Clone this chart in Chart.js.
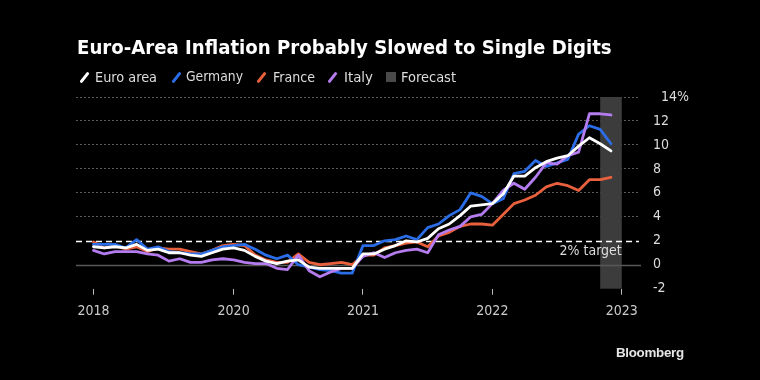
<!DOCTYPE html>
<html>
<head>
<meta charset="utf-8">
<script src="https://cdn.jsdelivr.net/npm/chart.js@4"></script>
<style>
  html,body{margin:0;padding:0;background:#000;}
  #wrap{position:relative;width:760px;height:380px;overflow:hidden;background:#000;font-family:"DejaVu Sans Condensed","DejaVu Sans",sans-serif;}
  canvas{position:absolute;left:0;top:0;}
  .fit{position:absolute;white-space:nowrap;line-height:1;display:inline-block;}
  #title{left:77px;top:37px;color:#fff;font-weight:700;font-size:19px;}
  .lg{top:70px;color:#ddd;font-size:15px;}
  .ico{position:absolute;top:71px;width:3px;height:13px;border-radius:2px;transform:rotate(38deg);}
  .sq{position:absolute;top:72px;width:10px;height:10px;background:#4a4a4a;}
  #bb{left:616px;top:346px;color:#e6e6e6;font-weight:700;font-size:14px;font-family:"Liberation Sans",Arial,sans-serif;letter-spacing:-0.3px;}
</style>
</head>
<body>
<div id="wrap">
  <canvas id="c" width="760" height="380"></canvas>
  <div id="title" class="fit" data-w="535">Euro-Area Inflation Probably Slowed to Single Digits</div>
  <span class="ico" style="left:83px;background:#ffffff"></span>
  <div class="fit lg" style="left:95px" data-w="62">Euro area</div>
  <span class="ico" style="left:175px;background:#2a6de6"></span>
  <div class="fit lg" style="left:186px" data-w="57">Germany</div>
  <span class="ico" style="left:260px;background:#e8603c"></span>
  <div class="fit lg" style="left:273px" data-w="42">France</div>
  <span class="ico" style="left:331px;background:#b57cf0"></span>
  <div class="fit lg" style="left:344px" data-w="29">Italy</div>
  <span class="sq" style="left:386px"></span>
  <div class="fit lg" style="left:401px" data-w="55">Forecast</div>
  <div id="bb" class="fit" data-w="68">Bloomberg</div>
</div>
<script>
// Monthly data, Dec 2018 .. Dec 2022 (last point = forecast)
const euroArea = [1.5, 1.4,1.5,1.4,1.7,1.2,1.3,1.0,1.0,0.8,0.7,1.0,1.3, 1.4,1.2,0.7,0.3,0.1,0.3,0.4,-0.2,-0.3,-0.3,-0.3,-0.3, 0.9,0.9,1.3,1.6,2.0,1.9,2.2,3.0,3.4,4.1,4.9,5.0, 5.1,5.9,7.4,7.4,8.1,8.6,8.9,9.1,9.9,10.6,10.1,9.5];
const germany  = [1.7, 1.7,1.7,1.4,2.1,1.3,1.5,1.1,1.0,0.9,0.9,1.2,1.5, 1.6,1.7,1.3,0.8,0.5,0.8,0.0,-0.2,-0.4,-0.5,-0.7,-0.7, 1.6,1.6,2.0,2.1,2.4,2.1,3.1,3.4,4.1,4.6,6.0,5.7, 5.1,5.5,7.6,7.8,8.7,8.2,8.5,8.8,10.9,11.6,11.3,10.1];
const france   = [1.9, 1.4,1.6,1.3,1.5,1.1,1.4,1.3,1.3,1.1,0.9,1.2,1.6, 1.7,1.6,0.8,0.4,0.2,0.2,0.9,0.2,0.0,0.1,0.2,0.0, 0.8,0.8,1.4,1.6,1.8,1.9,1.5,2.4,2.7,3.2,3.4,3.4, 3.3,4.2,5.1,5.4,5.8,6.5,6.8,6.6,6.2,7.1,7.1,7.3];
const italy    = [1.2, 0.9,1.1,1.1,1.1,0.9,0.8,0.3,0.5,0.2,0.2,0.4,0.5, 0.4,0.2,0.1,0.1,-0.3,-0.4,0.8,-0.5,-1.0,-0.6,-0.3,-0.3, 0.7,1.0,0.6,1.0,1.2,1.3,1.0,2.5,2.9,3.2,4.0,4.2, 5.1,6.2,6.8,6.3,7.3,8.5,8.4,9.1,9.4,12.6,12.6,12.5];
// x tick positions (month index, 0 = Dec 2018) and labels
const xTickPos    = [0, 13, 25, 37, 49];
const xTickLabels = ['2018', '2020', '2021', '2022', '2023'];
const yTicks      = [-2, 0, 2, 4, 6, 8, 10, 12, 14];
const targetValue = 2;
const forecastSpan = [47, 49];

// fit HTML text widths
document.querySelectorAll('.fit').forEach(el => {
  const w = parseFloat(el.dataset.w);
  const fs = parseFloat(getComputedStyle(el).fontSize);
  const cur = el.getBoundingClientRect().width;
  if (cur > 0) el.style.fontSize = (fs * w / cur).toFixed(2) + 'px';
});

const toXY = arr => arr.map((v, i) => ({x: i, y: v}));
const FONT = "'DejaVu Sans Condensed','DejaVu Sans',sans-serif";

const decor = {
  id: 'decor',
  beforeDatasetsDraw(chart) {
    const {ctx, chartArea: a, scales: {x, y}} = chart;
    ctx.save();
    // forecast band
    const x0 = x.getPixelForValue(forecastSpan[0]);
    const x1 = x.getPixelForValue(forecastSpan[1]);
    ctx.fillStyle = '#3c3c3c';
    ctx.fillRect(x0, a.top, x1 - x0, a.bottom - a.top);
    // zero line
    const y0 = Math.round(y.getPixelForValue(0)) + 0.5;
    ctx.strokeStyle = '#585858';
    ctx.lineWidth = 1.5;
    ctx.beginPath(); ctx.moveTo(a.left, y0); ctx.lineTo(a.right + 2, y0); ctx.stroke();
    // 2% target line
    const y2 = Math.round(y.getPixelForValue(targetValue)) + 0.5;
    ctx.strokeStyle = '#ffffff';
    ctx.lineWidth = 1.5;
    ctx.setLineDash([6, 4]);
    ctx.beginPath(); ctx.moveTo(a.left, y2); ctx.lineTo(a.right, y2); ctx.stroke();
    ctx.restore();
  },
  afterDatasetsDraw(chart) {
    const {ctx, scales: {x, y}} = chart;
    ctx.save();
    ctx.fillStyle = '#dddddd';
    ctx.font = "14px " + FONT;
    ctx.textAlign = 'right';
    ctx.textBaseline = 'middle';
    ctx.fillText('2% target', x.getPixelForValue(forecastSpan[1]), y.getPixelForValue(targetValue) + 11);
    ctx.restore();
  }
};

const ds = (label, data, color) => ({
  label, data: toXY(data), borderColor: color, borderWidth: 2.8,
  pointRadius: 0, tension: 0, borderJoinStyle: 'round', borderCapStyle: 'round', fill: false
});

new Chart(document.getElementById('c'), {
  type: 'line',
  data: {
    datasets: [
      ds('Euro area', euroArea, '#ffffff'),
      ds('Italy', italy, '#b57cf0'),
      ds('Germany', germany, '#2a6de6'),
      ds('France', france, '#e8603c')
    ]
  },
  options: {
    responsive: false,
    animation: false,
    devicePixelRatio: 1,
    layout: {padding: {left: 76, top: 97, right: 0, bottom: 0}},
    plugins: {legend: {display: false}, tooltip: {enabled: false}},
    scales: {
      x: {
        type: 'linear', min: -1.62, max: 50.6,
        afterBuildTicks: s => { s.ticks = xTickPos.map(v => ({value: v})); },
        afterFit: s => { s.height = 91.3; },
        ticks: {
          autoSkip: false, maxRotation: 0, padding: 8, color: '#cccccc',
          font: {size: 14, family: FONT},
          callback: (v) => xTickLabels[xTickPos.indexOf(v)]
        },
        grid: {drawOnChartArea: false, drawTicks: true, tickLength: 6, tickColor: '#bbbbbb', tickWidth: 1},
        border: {display: false}
      },
      y: {
        position: 'right', min: -2, max: 14,
        afterBuildTicks: s => { s.ticks = yTicks.map(v => ({value: v})); },
        afterFit: s => { s.width = 121; },
        ticks: {
          padding: 14, color: '#dddddd',
          font: {size: 14, family: FONT},
          callback: v => v === 14 ? '  14%' : String(v)
        },
        grid: {
          drawTicks: false, lineWidth: 1,
          color: c => (c.tick && (c.tick.value <= 0 || c.tick.value === targetValue)) ? 'rgba(0,0,0,0)' : '#5c5c5c'
        },
        border: {display: false, dash: [2, 2]}
      }
    }
  },
  plugins: [decor]
});
</script>
</body>
</html>
